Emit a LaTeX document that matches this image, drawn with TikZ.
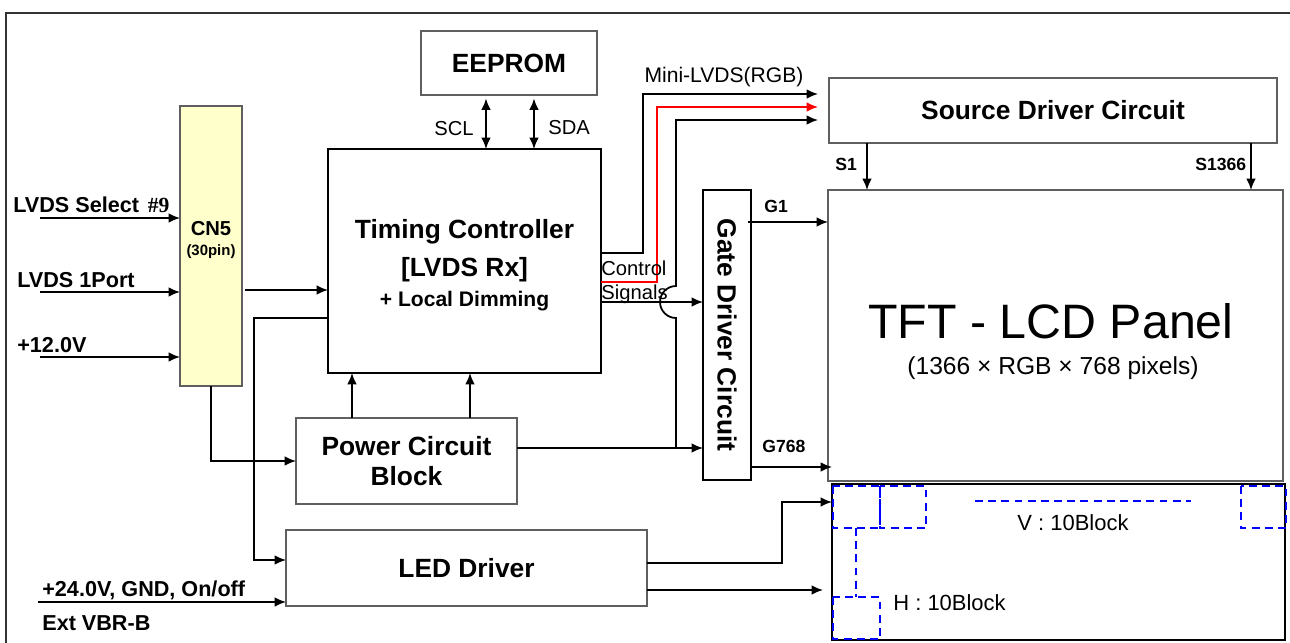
\documentclass[tikz,border=0pt]{standalone}
\usepackage{fontspec}
\setmainfont{Liberation Sans}
\newfontfamily\serifbf{Liberation Serif}
\usetikzlibrary{arrows.meta}
\definecolor{cnyellow}{RGB}{255,255,204}
\definecolor{boxgray}{RGB}{95,95,95}
\begin{document}
\begin{tikzpicture}[x=0.02cm,y=-0.02cm,>={Latex[length=6.5pt,width=5.5pt]}]
  \tikzstyle{block}=[draw=black,line width=0.8pt,inner sep=0pt,outer sep=0pt,align=center,font=\bfseries\fontsize{15}{18}\selectfont]
  \tikzstyle{wire}=[draw=black,line width=1pt]
  \tikzstyle{lbl}=[inner sep=0pt,anchor=base west,font=\bfseries\fontsize{12.3}{14}\selectfont]
  \tikzstyle{pin}=[inner sep=0pt,anchor=base west,font=\bfseries\fontsize{10}{12}\selectfont]
  \tikzstyle{thin}=[inner sep=0pt,font=\fontsize{11.5}{14}\selectfont]
  \tikzstyle{zone}=[draw=blue,line width=1.1pt,dash pattern=on 4.5pt off 3pt]

  \useasboundingbox (0,0) rectangle (1290,642);
  \draw[draw=black!80,line width=1.2pt] (6,13) rectangle (1310,660);

  % blocks
  \node[block,fill=cnyellow,draw=boxgray,minimum width=1.24cm,minimum height=5.6cm] (cn) at (211,246) {};
  \node[inner sep=0pt,align=center,font=\bfseries\fontsize{11.5}{13}\selectfont] (cnlbl) at (211,240) {CN5\\[-2pt]{\fontsize{8.5}{9}\selectfont(30pin)}};
  \node[block,line width=1.1pt,minimum width=5.46cm,minimum height=4.48cm] (tcon) at (464.5,261) {};
  \node[inner sep=0pt,align=center,font=\bfseries\fontsize{15}{18}\selectfont] (tclbl) at (464.5,265)
    {Timing Controller\\[4pt]{[LVDS Rx]}\\[-1pt]{\fontsize{12}{14}\selectfont + Local Dimming}};
  \node[block,draw=boxgray,minimum width=3.52cm,minimum height=1.28cm] (eeprom) at (509,63) {EEPROM};
  \node[block,draw=boxgray,minimum width=8.96cm,minimum height=1.3cm] (src) at (1053,110.5) {Source Driver Circuit};
  \node[block,rotate=-90,minimum width=5.8cm,minimum height=0.96cm] (gate) at (727,335) {Gate Driver Circuit};
  \node[block,draw=boxgray,minimum width=9.1cm,minimum height=5.82cm] (panel) at (1055.5,335.5) {};
  \node[inner sep=0pt,font=\fontsize{27.5}{32}\selectfont] (ptitle) at (1051,321) {TFT - LCD Panel};
  \node[inner sep=0pt,font=\fontsize{14}{16}\selectfont] (psub) at (1053,368) {(1366 × RGB × 768 pixels)};
  \node[block,draw=boxgray,minimum width=4.42cm,minimum height=1.72cm] (pcb) at (406.5,461) {Power Circuit\\[-1pt]Block};
  \node[block,draw=boxgray,minimum width=7.22cm,minimum height=1.52cm] (led) at (466.5,568) {LED Driver};
  \node[block,line width=1.2pt,minimum width=9.06cm,minimum height=3.12cm] (blu) at (1058.5,562) {};

  % backlight zones
  \draw[zone] (833,486) rectangle (880,528);
  \draw[zone] (880,486) rectangle (926,528);
  \draw[zone] (1241,486) rectangle (1286,528);
  \draw[zone] (975,501) -- (1191,501);
  \draw[zone] (856,528) -- (856,597);
  \draw[zone] (833,597) rectangle (880,639);
  \node[inner sep=0pt,font=\fontsize{12.5}{14}\selectfont] (vblk) at (1073,523) {V : 10Block};
  \node[inner sep=0pt,anchor=west,font=\fontsize{12.5}{14}\selectfont] (hblk) at (893,603) {H : 10Block};

  % inputs
  \coordinate (inSel) at (40,218);
  \coordinate (inPort) at (40,292);
  \coordinate (inVcc) at (40,357);
  \coordinate (inLed) at (38,602);
  \draw[wire,->] (inSel) -- (inSel -| cn.west);
  \draw[wire,->] (inPort) -- (inPort -| cn.west);
  \draw[wire,->] (inVcc) -- (inVcc -| cn.west);
  \draw[wire,->] (inLed) -- (inLed -| led.west);

  % CN5 outputs
  \draw[wire,->] (cn.east |- 0,290) ++(3,0) -- (tcon.west |- 0,290);
  \draw[wire,->] (tcon.west |- 0,318) -| (254,560) -- (led.west |- 0,560);
  \draw[wire,->] (cn.south) |- (pcb.west);

  % power and eeprom
  \draw[wire,->] (pcb.north -| 352,0) -- (tcon.south -| 352,0);
  \draw[wire,->] (pcb.north -| 470,0) -- (tcon.south -| 470,0);
  \draw[wire,<->] ([yshift=-0.7mm]eeprom.south -| 486,0) -- (tcon.north -| 486,0);
  \draw[wire,<->] ([yshift=-0.7mm]eeprom.south -| 534,0) -- (tcon.north -| 534,0);

  % mini-lvds
  \draw[wire,->] (tcon.east |- 0,253) -| (643,94) -- ([xshift=-2.2mm]src.west |- 0,94);
  \draw[wire,->,red] (tcon.east |- 0,282) -| (657,107) -- ([xshift=-2.2mm]src.west |- 0,107);
  \draw[wire,->] (pcb.east |- 0,448) -- (gate.south |- 0,448);
  \draw[wire,->] (676,448) -- (676,318) arc[start angle=270,end angle=90,radius=0.32cm]
    -- (676,120) -- ([xshift=-2.2mm]src.west |- 0,120);
  \draw[wire,->] (tcon.east |- 0,302) -- (gate.south |- 0,302);

  % gate and source lines
  \draw[wire,->] ([xshift=-0.6mm]gate.north |- 0,222) -- (panel.west |- 0,222);
  \draw[wire,->] (gate.north |- 0,467) -- ([xshift=0.8mm]panel.west |- 0,467);
  \draw[wire,->] (src.south -| 867,0) -- (panel.north -| 867,0);
  \draw[wire,->] (src.south -| 1251,0) -- (panel.north -| 1251,0);

  % led driver to backlight
  \draw[wire,->] (led.east |- 0,563) -- (782,563) -- (782,502) -- (blu.west |- 0,502);
  \draw[wire,->] (led.east |- 0,590) -- ([xshift=-1.8mm]blu.west |- 0,590);

  % labels
  \node[lbl] (lsel) at (13,212) {LVDS Select\hspace{5pt}{\serifbf\bfseries\#9}};
  \node[lbl] (lport) at (17,287) {LVDS 1Port};
  \node[lbl] (lvcc) at (17,352) {+12.0V};
  \node[lbl] (lled) at (42,596) {+24.0V, GND, On/off};
  \node[lbl] (lvbr) at (42,630) {Ext VBR-B};
  \node[thin,anchor=base east] (lscl) at (474,135) {SCL};
  \node[thin,anchor=base west] (lsda) at (548,134) {SDA};
  \node[thin,anchor=base,font=\fontsize{12}{14}\selectfont] (lmini) at (724,83) {Mini-LVDS(RGB)};
  \node[thin,anchor=base west] (lctl) at (601,275) {Control};
  \node[thin,anchor=base west] (lsig) at (601,299) {Signals};
  \node[pin] (lg1) at (764,212) {G1};
  \node[pin] (lg768) at (762,452) {G768};
  \node[pin] (ls1) at (835,170) {S1};
  \node[pin] (ls1366) at (1195,170) {S1366};
\end{tikzpicture}
\end{document}
